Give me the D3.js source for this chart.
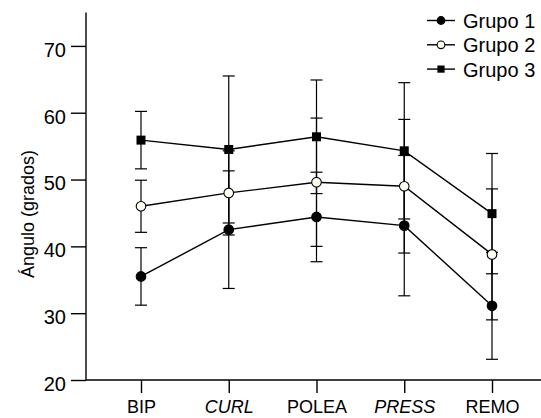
<!DOCTYPE html>
<html><head><meta charset="utf-8">
<script src="https://cdn.jsdelivr.net/npm/d3@7"></script>
<style>body{margin:0;background:#fff}svg{display:block}text{font-family:"Liberation Sans",Arial,Helvetica,sans-serif;fill:#000}</style>
</head><body><svg id="c" width="541" height="418"></svg>
<script>
const categories = ["BIP","CURL","POLEA","PRESS","REMO"];
const italicCats = ["CURL","PRESS"];
const grupo1 = [35.5, 42.5, 44.4, 43.1, 31.1];
const grupo1Err = [4.3, 8.8, 6.7, 10.5, 8.0];
const grupo2 = [46.0, 48.0, 49.6, 49.0, 38.8];
const grupo2Err = [3.9, 6.3, 9.6, 10.0, 9.8];
const grupo3 = [55.9, 54.5, 56.4, 54.3, 44.9];
const grupo3Err = [4.3, 11.0, 8.5, 10.2, 9.0];
const yTicks = [20, 30, 40, 50, 60, 70];
const seriesNames = ["Grupo 1","Grupo 2","Grupo 3"];

const svg = d3.select("#c");
const x = d3.scalePoint().domain(categories).range([141, 492]);
const y = d3.scaleLinear().domain([20, 75]).range([380, 12.5]);

const series = [
  {name: seriesNames[0], vals: grupo1, err: grupo1Err, shape: "circle", fill: "#000"},
  {name: seriesNames[1], vals: grupo2, err: grupo2Err, shape: "circle", fill: "#fffef2"},
  {name: seriesNames[2], vals: grupo3, err: grupo3Err, shape: "square", fill: "#000"}
];

// axes
const yAxis = svg.append("g").attr("transform","translate(86,0)")
  .call(d3.axisLeft(y).tickValues(yTicks).tickSize(15).tickPadding(5).tickSizeOuter(0));
yAxis.select(".domain").attr("d", `M0,${y(75)}V${y(20)}`);
yAxis.selectAll("text").attr("font-size", 20).attr("dy", "0.52em");
const xAxis = svg.append("g").attr("transform","translate(0,380)")
  .call(d3.axisBottom(x).tickSize(13).tickPadding(6).tickSizeOuter(0));
xAxis.select(".domain").attr("d", "M86,0H541");
xAxis.selectAll("text").attr("font-size", 18).attr("dy","0.8em")
  .attr("font-style", d => italicCats.includes(d) ? "italic" : "normal");
svg.selectAll(".domain, .tick line").attr("stroke","#000").attr("stroke-width",1.4);
svg.selectAll(".tick text").attr("font-family",'"Liberation Sans",Arial,sans-serif').attr("fill","#000");

svg.append("text").attr("transform", `translate(34,${y(45)+1}) rotate(-90)`)
  .attr("text-anchor","middle").attr("font-size",18).text("Ángulo (grados)");

const line = d3.line().x((d,i)=>x(categories[i])).y(d=>y(d));

// error bars
series.forEach(s => {
  const g = svg.append("g").attr("stroke","#000").attr("stroke-width",1.2);
  s.vals.forEach((v,i) => {
    const cx = x(categories[i]);
    g.append("line").attr("x1",cx).attr("x2",cx).attr("y1",y(v+s.err[i])).attr("y2",y(v-s.err[i]));
    g.append("line").attr("x1",cx-6).attr("x2",cx+6).attr("y1",y(v+s.err[i])).attr("y2",y(v+s.err[i]));
    g.append("line").attr("x1",cx-6).attr("x2",cx+6).attr("y1",y(v-s.err[i])).attr("y2",y(v-s.err[i]));
  });
});
// lines
series.forEach(s => {
  svg.append("path").datum(s.vals).attr("d", line).attr("fill","none").attr("stroke","#000").attr("stroke-width",1.4);
});
function marker(g, shape, fill, cx, cy, scale){
  if (shape === "square") {
    const h = 4.5*scale;
    g.append("rect").attr("x",cx-h).attr("y",cy-h).attr("width",2*h).attr("height",2*h).attr("fill",fill);
  } else {
    g.append("circle").attr("cx",cx).attr("cy",cy).attr("r",4.8*scale).attr("fill",fill)
      .attr("stroke","#000").attr("stroke-width",1.1);
  }
}
series.forEach(s => {
  const g = svg.append("g");
  s.vals.forEach((v,i) => marker(g, s.shape, s.fill, x(categories[i]), y(v), 1));
});

// legend
series.forEach((s,i) => {
  const ly = 20.5 + i*24.3;
  const g = svg.append("g");
  g.append("line").attr("x1",427).attr("x2",455).attr("y1",ly).attr("y2",ly).attr("stroke","#000").attr("stroke-width",1.4);
  marker(g, s.shape, s.fill, 441, ly, 0.8);
  g.append("text").attr("x",463).attr("y",ly+7.5).attr("font-size",20).text(s.name);
});
</script></body></html>
